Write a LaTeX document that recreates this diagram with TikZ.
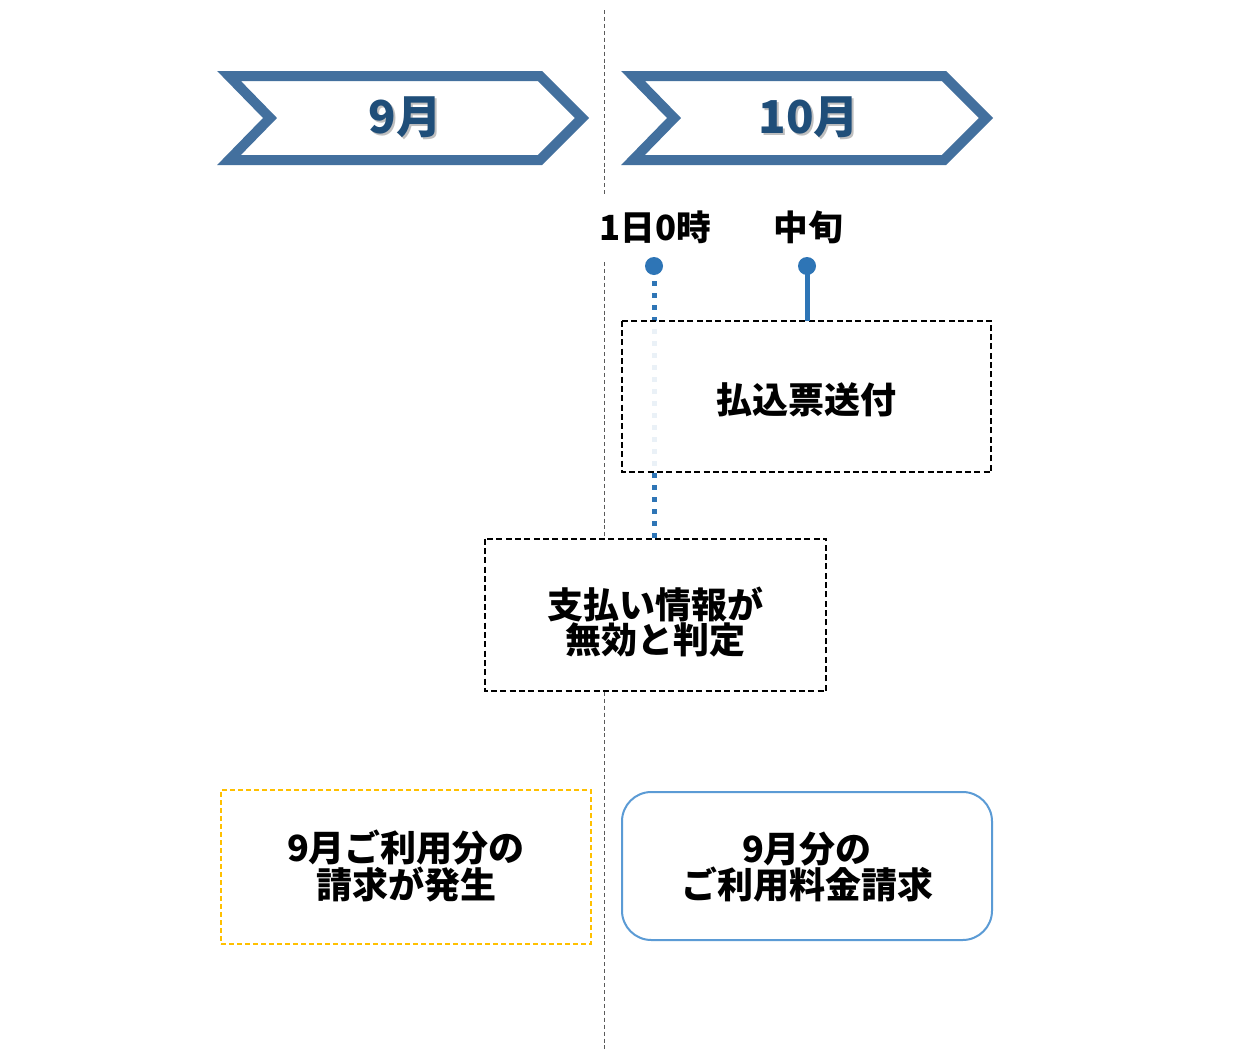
\documentclass[tikz,border=0pt]{standalone}
\usepackage{fontspec}
\setmainfont{Noto Sans CJK JP}
\definecolor{chevc}{RGB}{67,112,158}
\definecolor{monthc}{HTML}{1F4E79}
\definecolor{dotc}{HTML}{2E75B6}
\definecolor{roundc}{HTML}{5B9BD5}
\definecolor{yelc}{HTML}{FFC000}
\definecolor{vlinec}{RGB}{90,90,90}
\tikzset{
  chev/.style={draw=chevc, line width=7.5pt, miter limit=10},
  monthlbl/.style={font=\fontsize{34}{36}\selectfont\bfseries, text=monthc, inner sep=0pt},
  monthshadow/.style={font=\fontsize{34}{36}\selectfont\bfseries, text=black!25, inner sep=0pt},
  timelbl/.style={font=\fontsize{26}{28}\selectfont\bfseries, inner sep=0pt},
  boxtxt/.style={font=\fontsize{27}{26}\selectfont\bfseries, align=center, inner sep=0pt},
  dashbox/.style={draw=black, line width=1.5pt, dash pattern=on 4.5pt off 2.5pt},
  dotnode/.style={circle, fill=dotc, minimum size=13.5pt, inner sep=0pt},
  vline/.style={draw=vlinec, line width=0.75pt, dash pattern=on 3pt off 2.2pt}
}
\begin{document}
\begin{tikzpicture}[x=0.75pt, y=-0.75pt]
\useasboundingbox (0,0) rectangle (1240,1064);
\fill[white] (0,0) rectangle (1240,1064);
% vertical divider
\coordinate (v0) at (604,10);
\coordinate (v1) at (604,197);
\coordinate (v2) at (604,262);
\coordinate (v3) at (604,1050);
\draw[vline] (v0) -- (v1);
\draw[vline] (v2) -- (v3);
% chevrons
\draw[chev] (229,76) -- (540,76) -- (582,118) -- (540,160) -- (229,160) -- (270,118) -- cycle;
\draw[chev] (633,76) -- (944,76) -- (986,118) -- (944,160) -- (633,160) -- (674,118) -- cycle;
\node[monthshadow] at (407,119) {9月};
\node[monthlbl] (m9) at (405,117) {9月};
\node[monthshadow] at (811,119) {10月};
\node[monthlbl] (m10) at (809,117) {10月};
% time labels
\node[timelbl] (t1) at (655,227) {1日0時};
\node[timelbl] (t2) at (808,227) {中旬};
% boxes
\node[boxtxt, minimum width=255.75pt, minimum height=114pt] (b2) at (655.5,615) {};
\node[dotnode] (d1) at (654,266) {};
\node[dotnode] (d2) at (807,266) {};
\draw[dotc, line width=3.75pt, dash pattern=on 3.75pt off 5.25pt] (d1.south) ++(0,6) -- (b2.north -| d1);
\node[boxtxt, minimum width=276.75pt, minimum height=113.25pt, fill=white, fill opacity=0.9, text opacity=1] (b1) at (806.5,396.5) {};
\draw[dashbox] (b1.north west) rectangle (b1.south east);
\node[boxtxt] at (806,400) {払込票送付};
\draw[dotc, line width=3.75pt] (d2.center) -- (b1.north -| d2);
\draw[dashbox, fill=white] (b2.north west) rectangle (b2.south east);
\node[boxtxt] (b2t) at (655,622) {支払い情報が\\無効と判定};
% bottom boxes
\node[boxtxt, draw=yelc, line width=1.5pt, dash pattern=on 3.75pt off 2.25pt, minimum width=277.5pt, minimum height=115.5pt] (b3) at (406,867) {};
\node[boxtxt] (b3t) at (406,866) {9月ご利用分の\\請求が発生};
\node[boxtxt, draw=roundc, line width=1.5pt, rounded corners=22pt, minimum width=277.5pt, minimum height=111pt] (b4) at (807,866) {};
\node[boxtxt] (b4t) at (807,867) {9月分の\\ご利用料金請求};
\end{tikzpicture}
\end{document}
